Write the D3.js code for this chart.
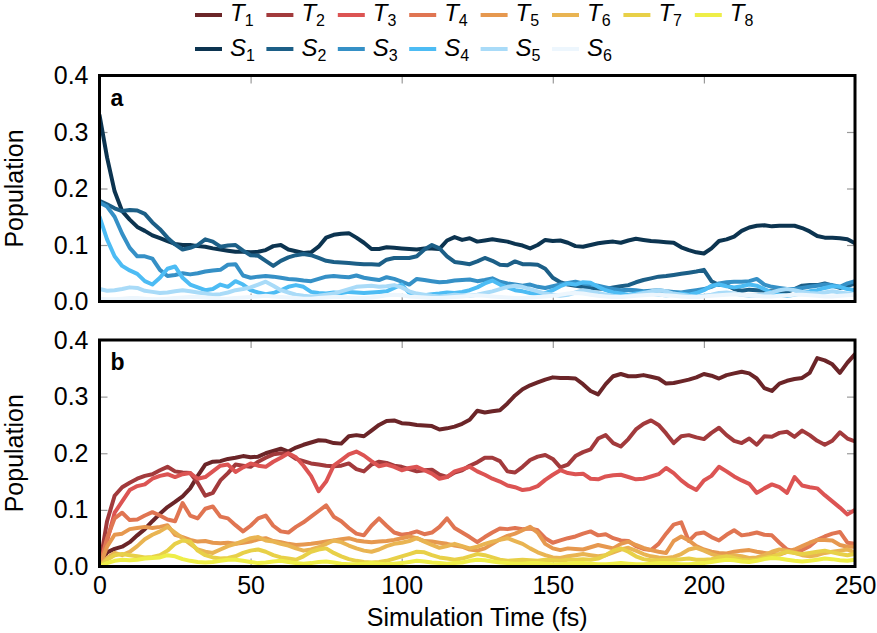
<!DOCTYPE html>
<html><head><meta charset="utf-8">
<script src="https://cdn.jsdelivr.net/npm/d3@7"></script>
<style>
html,body{margin:0;padding:0;background:#fff;}
svg{display:block;font-family:"Liberation Sans",Arial,Helvetica,sans-serif;}
</style></head>
<body><svg id="chart" width="877" height="633"></svg>
<script>
const time = [0,2.5,5,7.5,10,12.5,15,17.5,20,22.5,25,27.5,30,32.5,35,37.5,40,42.5,45,47.5,50,52.5,55,57.5,60,62.5,65,67.5,70,72.5,75,77.5,80,82.5,85,87.5,90,92.5,95,97.5,100,102.5,105,107.5,110,112.5,115,117.5,120,122.5,125,127.5,130,132.5,135,137.5,140,142.5,145,147.5,150,152.5,155,157.5,160,162.5,165,167.5,170,172.5,175,177.5,180,182.5,185,187.5,190,192.5,195,197.5,200,202.5,205,207.5,210,212.5,215,217.5,220,222.5,225,227.5,230,232.5,235,237.5,240,242.5,245,247.5,250];

const S1 = [0.33,0.255,0.195,0.16,0.145,0.132,0.125,0.117,0.112,0.107,0.102,0.1,0.1,0.098,0.097,0.094,0.092,0.09,0.088,0.088,0.087,0.088,0.091,0.098,0.1,0.092,0.089,0.086,0.087,0.097,0.113,0.118,0.12,0.121,0.113,0.104,0.093,0.093,0.096,0.095,0.094,0.093,0.092,0.094,0.094,0.093,0.108,0.114,0.109,0.112,0.106,0.108,0.11,0.108,0.106,0.102,0.099,0.094,0.1,0.109,0.107,0.108,0.104,0.098,0.097,0.1,0.103,0.105,0.106,0.104,0.108,0.111,0.109,0.107,0.106,0.105,0.104,0.096,0.091,0.087,0.085,0.094,0.107,0.11,0.115,0.125,0.131,0.134,0.135,0.133,0.134,0.134,0.134,0.13,0.124,0.116,0.113,0.113,0.112,0.11,0.103];
const S2 = [0.178,0.172,0.165,0.16,0.162,0.161,0.155,0.14,0.128,0.113,0.101,0.092,0.095,0.1,0.11,0.106,0.097,0.099,0.1,0.09,0.082,0.081,0.072,0.063,0.072,0.078,0.082,0.084,0.082,0.077,0.072,0.07,0.069,0.068,0.067,0.066,0.066,0.065,0.074,0.077,0.077,0.077,0.08,0.092,0.1,0.094,0.08,0.07,0.068,0.066,0.071,0.077,0.072,0.065,0.064,0.071,0.066,0.066,0.065,0.058,0.042,0.034,0.03,0.028,0.026,0.024,0.023,0.022,0.025,0.027,0.029,0.034,0.038,0.041,0.044,0.045,0.047,0.049,0.051,0.053,0.056,0.036,0.029,0.029,0.022,0.019,0.021,0.02,0.019,0.018,0.018,0.017,0.022,0.028,0.029,0.029,0.032,0.028,0.024,0.027,0.032];
const S3 = [0.175,0.168,0.15,0.12,0.095,0.08,0.08,0.076,0.056,0.045,0.047,0.05,0.048,0.05,0.053,0.055,0.056,0.065,0.066,0.046,0.042,0.044,0.045,0.044,0.042,0.04,0.039,0.037,0.036,0.04,0.044,0.045,0.044,0.043,0.046,0.042,0.04,0.038,0.043,0.04,0.035,0.03,0.04,0.038,0.036,0.034,0.035,0.037,0.038,0.039,0.036,0.038,0.041,0.035,0.032,0.03,0.028,0.03,0.026,0.024,0.027,0.03,0.033,0.035,0.032,0.03,0.028,0.025,0.022,0.02,0.021,0.02,0.018,0.019,0.02,0.018,0.017,0.016,0.018,0.02,0.022,0.026,0.032,0.034,0.035,0.035,0.036,0.04,0.03,0.026,0.024,0.022,0.022,0.024,0.026,0.028,0.03,0.029,0.026,0.032,0.036];
const S4 = [0.15,0.11,0.08,0.063,0.055,0.049,0.036,0.03,0.042,0.058,0.062,0.042,0.03,0.025,0.02,0.022,0.03,0.026,0.036,0.03,0.02,0.016,0.013,0.015,0.02,0.026,0.029,0.026,0.017,0.015,0.014,0.016,0.015,0.017,0.016,0.015,0.016,0.017,0.018,0.024,0.03,0.015,0.012,0.011,0.013,0.014,0.016,0.015,0.017,0.02,0.025,0.032,0.037,0.03,0.025,0.02,0.018,0.015,0.013,0.015,0.02,0.027,0.032,0.03,0.034,0.033,0.026,0.02,0.016,0.014,0.012,0.014,0.016,0.014,0.012,0.011,0.012,0.014,0.012,0.015,0.02,0.028,0.03,0.027,0.025,0.027,0.03,0.028,0.022,0.016,0.012,0.01,0.012,0.015,0.018,0.02,0.024,0.027,0.026,0.022,0.02];
const S5 = [0.022,0.019,0.02,0.022,0.025,0.024,0.019,0.017,0.015,0.016,0.018,0.02,0.018,0.016,0.014,0.012,0.013,0.016,0.02,0.022,0.025,0.03,0.035,0.028,0.02,0.016,0.012,0.01,0.009,0.01,0.012,0.014,0.018,0.022,0.026,0.027,0.028,0.026,0.027,0.029,0.025,0.018,0.014,0.012,0.01,0.009,0.01,0.012,0.011,0.01,0.012,0.015,0.018,0.022,0.026,0.028,0.026,0.022,0.018,0.014,0.012,0.01,0.012,0.016,0.02,0.018,0.015,0.012,0.01,0.009,0.01,0.012,0.015,0.018,0.02,0.018,0.014,0.012,0.01,0.009,0.01,0.012,0.015,0.016,0.014,0.012,0.01,0.011,0.013,0.016,0.02,0.022,0.02,0.017,0.015,0.014,0.016,0.018,0.016,0.014,0.012];
const S6 = [0.005,0.004,0.004,0.005,0.006,0.006,0.005,0.004,0.004,0.005,0.006,0.007,0.008,0.008,0.007,0.006,0.005,0.005,0.006,0.007,0.008,0.009,0.01,0.009,0.008,0.007,0.006,0.005,0.005,0.006,0.007,0.008,0.008,0.007,0.006,0.006,0.007,0.009,0.011,0.012,0.011,0.009,0.008,0.007,0.006,0.006,0.007,0.008,0.009,0.01,0.011,0.01,0.009,0.008,0.007,0.006,0.006,0.007,0.008,0.009,0.01,0.012,0.014,0.015,0.014,0.012,0.01,0.009,0.008,0.008,0.009,0.01,0.011,0.012,0.012,0.011,0.01,0.009,0.008,0.008,0.009,0.01,0.011,0.012,0.013,0.012,0.011,0.01,0.009,0.009,0.01,0.011,0.012,0.012,0.011,0.01,0.009,0.009,0.01,0.011,0.012];

const T1 = [0,0.025,0.031,0.035,0.043,0.055,0.066,0.08,0.093,0.105,0.114,0.124,0.138,0.16,0.18,0.185,0.186,0.19,0.192,0.195,0.193,0.194,0.2,0.204,0.208,0.203,0.21,0.215,0.219,0.223,0.222,0.218,0.217,0.23,0.232,0.23,0.24,0.25,0.257,0.258,0.253,0.252,0.25,0.249,0.248,0.242,0.244,0.247,0.252,0.259,0.275,0.272,0.274,0.276,0.288,0.302,0.313,0.32,0.325,0.33,0.334,0.333,0.333,0.332,0.322,0.31,0.304,0.322,0.336,0.34,0.336,0.336,0.338,0.335,0.332,0.323,0.324,0.327,0.33,0.334,0.34,0.337,0.332,0.338,0.341,0.344,0.341,0.332,0.315,0.31,0.323,0.328,0.331,0.333,0.342,0.368,0.364,0.357,0.342,0.36,0.375];
const T2 = [0,0.08,0.125,0.14,0.148,0.155,0.16,0.163,0.17,0.176,0.168,0.166,0.165,0.148,0.125,0.13,0.152,0.165,0.18,0.178,0.176,0.185,0.192,0.198,0.2,0.199,0.19,0.186,0.182,0.18,0.178,0.177,0.178,0.182,0.172,0.168,0.18,0.185,0.183,0.178,0.176,0.172,0.168,0.17,0.171,0.162,0.158,0.166,0.17,0.178,0.184,0.192,0.192,0.186,0.168,0.166,0.176,0.188,0.194,0.197,0.19,0.175,0.18,0.195,0.202,0.207,0.226,0.232,0.218,0.212,0.225,0.242,0.252,0.258,0.25,0.235,0.218,0.23,0.232,0.228,0.225,0.236,0.245,0.232,0.222,0.218,0.226,0.215,0.23,0.229,0.236,0.238,0.229,0.24,0.232,0.222,0.215,0.222,0.237,0.226,0.221];
const T3 = [0,0.045,0.095,0.115,0.135,0.142,0.145,0.155,0.16,0.163,0.158,0.163,0.165,0.155,0.158,0.168,0.178,0.18,0.167,0.175,0.182,0.178,0.176,0.185,0.192,0.2,0.193,0.178,0.16,0.133,0.15,0.178,0.188,0.198,0.203,0.196,0.186,0.177,0.18,0.176,0.17,0.174,0.176,0.17,0.164,0.155,0.158,0.168,0.172,0.176,0.168,0.162,0.155,0.15,0.143,0.14,0.135,0.137,0.142,0.153,0.162,0.17,0.165,0.163,0.164,0.155,0.154,0.159,0.161,0.162,0.158,0.154,0.155,0.159,0.163,0.174,0.165,0.152,0.142,0.135,0.152,0.16,0.176,0.168,0.159,0.152,0.146,0.13,0.138,0.145,0.14,0.13,0.158,0.143,0.14,0.138,0.126,0.115,0.104,0.092,0.1];
const T4 = [0,0.05,0.085,0.095,0.082,0.083,0.09,0.096,0.09,0.083,0.08,0.112,0.09,0.085,0.102,0.106,0.088,0.085,0.073,0.062,0.072,0.085,0.09,0.072,0.062,0.06,0.07,0.078,0.088,0.098,0.108,0.088,0.08,0.068,0.058,0.055,0.072,0.085,0.072,0.06,0.056,0.058,0.062,0.057,0.06,0.07,0.085,0.068,0.06,0.052,0.043,0.052,0.06,0.067,0.066,0.068,0.066,0.067,0.064,0.05,0.042,0.046,0.05,0.053,0.058,0.062,0.055,0.057,0.05,0.046,0.045,0.036,0.031,0.029,0.04,0.058,0.074,0.078,0.045,0.058,0.06,0.052,0.046,0.056,0.064,0.055,0.057,0.06,0.056,0.055,0.042,0.03,0.027,0.029,0.036,0.047,0.053,0.058,0.061,0.042,0.04];
const T5 = [0,0.035,0.056,0.058,0.066,0.068,0.07,0.068,0.07,0.073,0.056,0.052,0.047,0.044,0.045,0.042,0.041,0.042,0.04,0.042,0.044,0.048,0.05,0.045,0.043,0.04,0.038,0.039,0.04,0.042,0.044,0.046,0.048,0.05,0.046,0.044,0.043,0.044,0.045,0.047,0.05,0.053,0.05,0.045,0.044,0.042,0.04,0.037,0.035,0.03,0.028,0.032,0.04,0.048,0.054,0.058,0.064,0.07,0.06,0.04,0.032,0.029,0.032,0.031,0.03,0.034,0.038,0.035,0.032,0.04,0.044,0.038,0.033,0.029,0.026,0.024,0.045,0.053,0.046,0.036,0.03,0.026,0.024,0.023,0.026,0.028,0.029,0.026,0.024,0.022,0.021,0.026,0.03,0.036,0.042,0.047,0.047,0.046,0.038,0.035,0.035];
const T6 = [0,0.015,0.024,0.02,0.026,0.036,0.048,0.056,0.062,0.07,0.06,0.05,0.04,0.03,0.026,0.024,0.03,0.036,0.04,0.045,0.05,0.052,0.046,0.044,0.04,0.037,0.032,0.028,0.03,0.034,0.04,0.046,0.043,0.037,0.032,0.028,0.026,0.03,0.036,0.04,0.042,0.045,0.05,0.044,0.038,0.033,0.036,0.04,0.036,0.032,0.035,0.04,0.044,0.047,0.05,0.045,0.04,0.032,0.025,0.02,0.016,0.015,0.018,0.02,0.022,0.02,0.018,0.02,0.025,0.03,0.033,0.028,0.022,0.018,0.016,0.015,0.017,0.022,0.03,0.033,0.028,0.022,0.018,0.017,0.02,0.018,0.015,0.016,0.02,0.026,0.03,0.028,0.024,0.02,0.018,0.02,0.024,0.026,0.028,0.03,0.025];
const T7 = [0,0.012,0.02,0.022,0.02,0.018,0.016,0.017,0.02,0.028,0.04,0.046,0.044,0.028,0.02,0.016,0.014,0.015,0.018,0.024,0.028,0.03,0.026,0.02,0.016,0.014,0.012,0.018,0.026,0.03,0.032,0.024,0.018,0.013,0.01,0.008,0.007,0.008,0.01,0.014,0.018,0.022,0.026,0.025,0.02,0.016,0.014,0.012,0.014,0.018,0.022,0.02,0.016,0.012,0.01,0.011,0.012,0.011,0.01,0.012,0.011,0.01,0.012,0.012,0.013,0.012,0.014,0.02,0.028,0.032,0.026,0.018,0.013,0.011,0.011,0.012,0.012,0.013,0.014,0.012,0.012,0.013,0.016,0.018,0.015,0.012,0.011,0.012,0.015,0.018,0.022,0.026,0.024,0.022,0.024,0.026,0.028,0.025,0.022,0.02,0.022];
const T8 = [0,0.006,0.01,0.012,0.011,0.012,0.014,0.015,0.016,0.02,0.018,0.013,0.01,0.008,0.007,0.008,0.01,0.012,0.012,0.01,0.008,0.006,0.007,0.009,0.01,0.008,0.006,0.005,0.006,0.008,0.009,0.007,0.005,0.004,0.004,0.005,0.006,0.005,0.004,0.005,0.006,0.008,0.01,0.009,0.007,0.006,0.005,0.006,0.007,0.01,0.012,0.011,0.009,0.007,0.006,0.005,0.005,0.006,0.006,0.005,0.004,0.004,0.005,0.006,0.006,0.005,0.004,0.004,0.005,0.006,0.005,0.004,0.004,0.005,0.006,0.006,0.005,0.004,0.004,0.005,0.006,0.008,0.01,0.012,0.011,0.009,0.008,0.01,0.013,0.015,0.014,0.012,0.01,0.009,0.01,0.012,0.014,0.013,0.011,0.01,0.012];

const tripletNames = ["T1","T2","T3","T4","T5","T6","T7","T8"];
const singletNames = ["S1","S2","S3","S4","S5","S6"];
const tripletColors = ["#6b2528","#a23a3c","#dc5453","#e07552","#e6984f","#e9b452","#e8d048","#eeee48"];
const singletColors = ["#0c3450","#1c5f87","#3590c6","#4dbcf4","#a9dbf8","#edf6fd"];
const xTicks = [0,50,100,150,200,250];
const yTicks = [0.0,0.1,0.2,0.3,0.4];
const xLabel = "Simulation Time (fs)";
const yLabel = "Population";

const tripletData = [T1,T2,T3,T4,T5,T6,T7,T8];
const singletData = [S1,S2,S3,S4,S5,S6];

const svg = d3.select("#chart");
const FONT = 25;
const x = d3.scaleLinear().domain([0,250]).range([99.5,855]);
const panels = [
  {id:"a", y:d3.scaleLinear().domain([0,0.4]).range([301.5,75.5]), data:singletData, colors:singletColors, xlabels:false},
  {id:"b", y:d3.scaleLinear().domain([0,0.4]).range([566.5,340]), data:tripletData, colors:tripletColors, xlabels:true}
];

panels.forEach(p => {
  const g = svg.append("g");
  const [y0,y1] = p.y.range();
  const clipId = "clip-"+p.id;
  g.append("clipPath").attr("id",clipId).append("rect")
    .attr("x",x(0)).attr("y",y1).attr("width",x(250)-x(0)).attr("height",y0-y1);
  const tickG = g.append("g").attr("class","ticks");
  const axL = d3.axisLeft(p.y).tickValues(yTicks).tickSize(-8).tickPadding(11).tickFormat(d3.format(".1f"));
  const axR = d3.axisRight(p.y).tickValues(yTicks).tickSize(-8).tickFormat("");
  const axB = d3.axisBottom(x).tickValues(xTicks).tickSize(-8).tickPadding(10).tickFormat(p.xlabels ? d3.format("d") : "");
  const axT = d3.axisTop(x).tickValues(xTicks).tickSize(-8).tickFormat("");
  [[axL,`translate(${x(0)},0)`],[axR,`translate(${x(250)},0)`],[axB,`translate(0,${y0})`],[axT,`translate(0,${y1})`]].forEach(([ax,tr]) => {
    const a = tickG.append("g").attr("transform",tr).call(ax);
    a.select(".domain").remove();
    a.selectAll("line").attr("stroke","#9a9a9a").attr("stroke-width",1.2);
    a.selectAll("text").attr("font-size",FONT).attr("fill","#000").attr("font-family","Liberation Sans, Arial, sans-serif");
  });
  const line = d3.line().x((d,i)=>x(time[i])).y(d=>p.y(d));
  g.append("g").attr("clip-path",`url(#${clipId})`)
    .selectAll("path").data(p.data).join("path")
    .attr("d",d=>line(d)).attr("fill","none")
    .attr("stroke",(d,i)=>p.colors[i]).attr("stroke-width",4)
    .attr("stroke-linejoin","round").attr("stroke-linecap","round");
  g.append("rect").attr("x",x(0)).attr("y",y1).attr("width",x(250)-x(0)).attr("height",y0-y1)
    .attr("fill","none").attr("stroke","#000").attr("stroke-width",3);
  g.append("text").attr("x",x(0)+11).attr("y",y1+30).attr("font-size",23).attr("font-weight","bold").text(p.id);
  g.append("text").attr("transform",`translate(${23},${(y0+y1)/2}) rotate(-90)`)
    .attr("text-anchor","middle").attr("font-size",FONT).text(yLabel);
});

svg.append("text").attr("x",(x(0)+x(250))/2).attr("y",626).attr("text-anchor","middle")
  .attr("font-size",FONT).text(xLabel);

function legendRow(names, colors, yLine, yText){
  const g = svg.append("g");
  names.forEach((n,i)=>{
    const x0 = 195 + i*71.4;
    g.append("line").attr("x1",x0).attr("x2",x0+27).attr("y1",yLine).attr("y2",yLine)
      .attr("stroke",colors[i]).attr("stroke-width",4);
    const t = g.append("text").attr("x",x0+35).attr("y",yText).attr("font-size",24);
    t.append("tspan").attr("font-style","italic").text(n[0]);
    t.append("tspan").attr("font-size",16).attr("dy",5).text(n.slice(1));
  });
}
legendRow(tripletNames, tripletColors, 15, 21);
legendRow(singletNames, singletColors, 49, 56);
</script></body></html>
